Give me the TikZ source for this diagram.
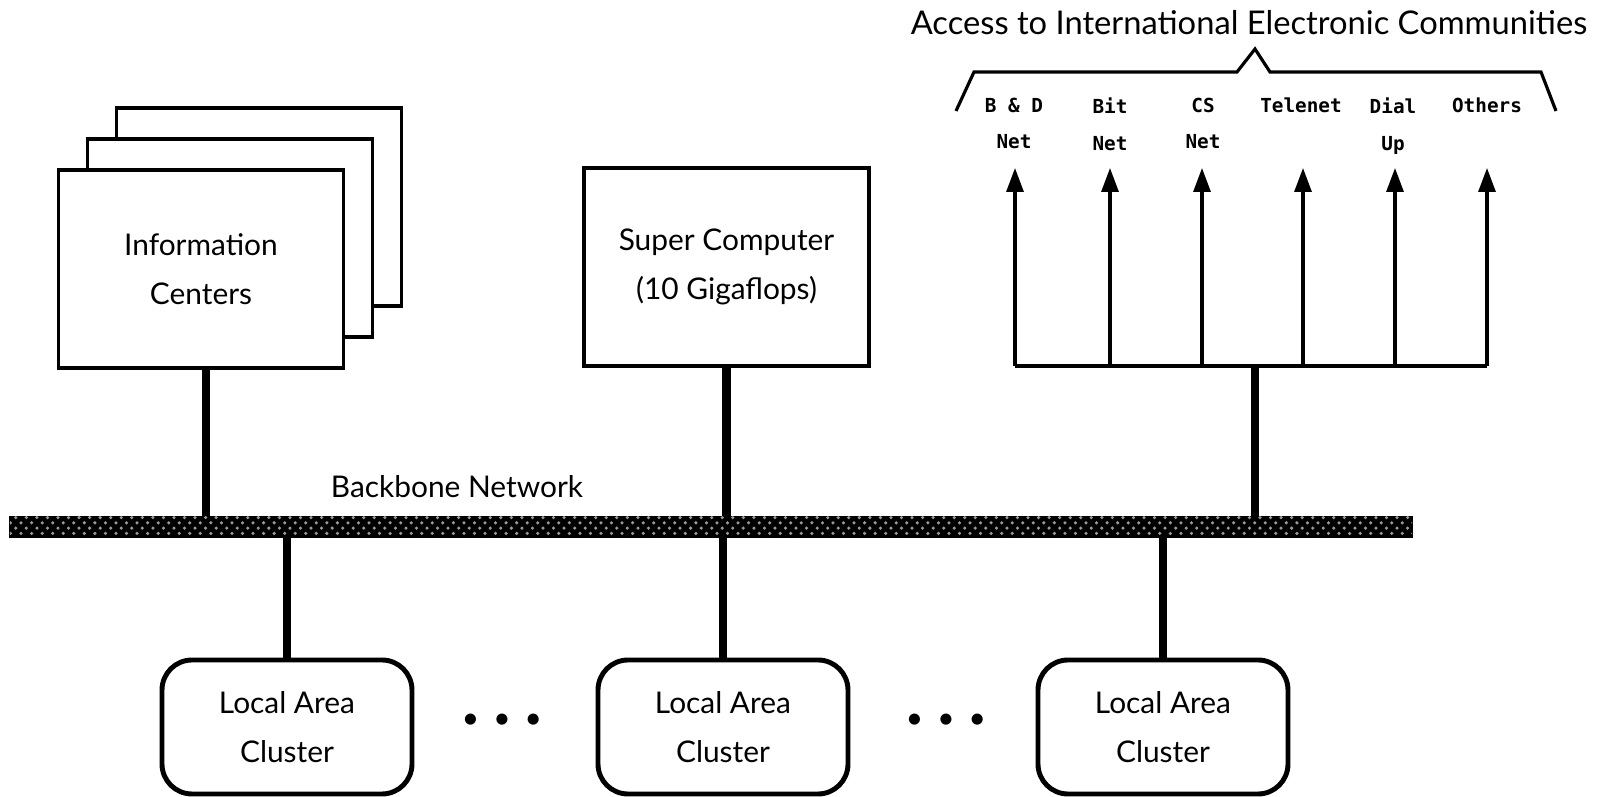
\documentclass[tikz,border=0pt]{standalone}
\usepackage{fontspec}
\setmainfont{Lato}
\newfontfamily\netfont{DejaVu Sans Mono}
\usetikzlibrary{arrows.meta,patterns}

\begin{document}
\begin{tikzpicture}[
    font=\fontsize{8.5}{14}\selectfont,
    box/.style={draw, rectangle, line width=0.9pt, fill=white, minimum width=2.85cm, minimum height=1.98cm, align=center},
    lan/.style={draw, rectangle, rounded corners=0.3cm, line width=1.4pt, minimum width=2.5cm, minimum height=1.34cm, align=center},
    link/.style={line width=2.3pt},
    feed/.style={line width=0.9pt, -{Triangle[width=0.17cm,length=0.24cm]}},
    netname/.style={font=\netfont\bfseries\fontsize{5.5}{10.5}\selectfont, align=center, anchor=north, inner sep=0pt}
  ]
    \useasboundingbox (0,0) rectangle (16.16,7.97);

    \node[box] (c3) at (2.59,5.90) {};
    \node[box] (c2) at (2.30,5.59) {};
    \node[box] (c1) at (2.01,5.28) {Information\\Centers};
    \node[box] (sc) at (7.265,5.30) {Super Computer\\(10 Gigaflops)};

    \node[draw, rectangle, line width=0.6pt, fill=black, postaction={pattern=crosshatch dots, pattern color=white!60!black}, minimum width=14.02cm, minimum height=0.2cm, inner sep=0pt] (bus) at (7.11,2.70) {};
    \node (busname) at (4.57,3.10) {Backbone Network};

    \node[lan] (lan1) at (2.87,0.70) {Local Area\\Cluster};
    \node[lan] (lan2) at (7.23,0.70) {Local Area\\Cluster};
    \node[lan] (lan3) at (11.63,0.70) {Local Area\\Cluster};
    \node (dots1) at (5.02,0.76) {\textbullet\hspace{4pt}\textbullet\hspace{4pt}\textbullet};
    \node (dots2) at (9.46,0.76) {\textbullet\hspace{4pt}\textbullet\hspace{4pt}\textbullet};

    \node[font=\fontsize{9.3}{14}\selectfont] (title) at (12.49,7.74) {Access to International Electronic Communities};
    \draw[line width=0.9pt] (9.56,6.86) -- (9.74,7.25) -- (12.37,7.25) -- (12.55,7.48) -- (12.70,7.25) -- (15.41,7.25) -- (15.56,6.86);

    \node[netname] (bdnet) at (10.14,7.00) {B \& D\\Net};
    \node[netname] (bitnet) at (11.10,7.00) {Bit\\Net};
    \node[netname] (csnet) at (12.03,7.00) {CS\\Net};
    \node[netname] (telenet) at (13.01,7.00) {Telenet};
    \node[netname] (dialup) at (13.93,7.00) {Dial\\Up};
    \node[netname] (others) at (14.87,7.00) {Others};

    \coordinate (a1) at (10.15,4.31);
    \coordinate (a2) at (11.10,4.31);
    \coordinate (a3) at (12.02,4.31);
    \coordinate (a4) at (13.03,4.31);
    \coordinate (a5) at (13.95,4.31);
    \coordinate (a6) at (14.87,4.31);
    \coordinate (acc) at (12.55,4.31);

    \draw[feed] (a1) -- (a1 |- 0,6.29);
    \draw[feed] (a2) -- (a2 |- 0,6.29);
    \draw[feed] (a3) -- (a3 |- 0,6.29);
    \draw[feed] (a4) -- (a4 |- 0,6.29);
    \draw[feed] (a5) -- (a5 |- 0,6.29);
    \draw[feed] (a6) -- (a6 |- 0,6.29);
    \draw[line width=0.9pt] (a1) -- (a6);

    \draw[link] ([xshift=0.05cm]c1.south) -- ([xshift=0.05cm]c1.south |- bus.north);
    \draw[link] (sc.south) -- (sc.south |- bus.north);
    \draw[link] (acc) -- (acc |- bus.north);
    \draw[link] (lan1.north) -- (lan1.north |- bus.south);
    \draw[link] (lan2.north) -- (lan2.north |- bus.south);
    \draw[link] (lan3.north) -- (lan3.north |- bus.south);
  \end{tikzpicture}
\end{document}
